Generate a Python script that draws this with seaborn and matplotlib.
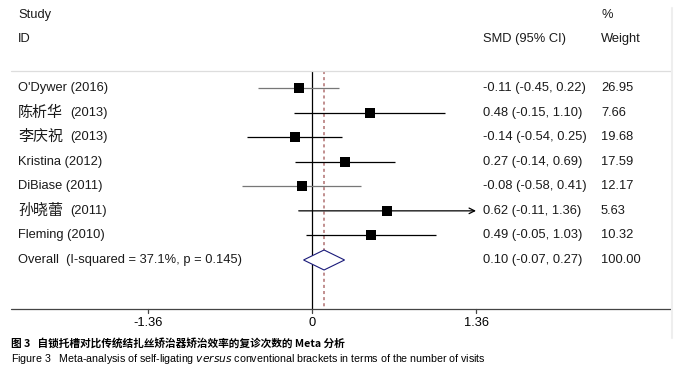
import matplotlib
matplotlib.use("Agg")
import matplotlib.pyplot as plt
import seaborn as sns
import pandas as pd
from matplotlib.patches import Polygon

sns.set_style("white")
FAM = ["Liberation Sans", "Noto Sans CJK SC", "DejaVu Sans"]
plt.rcParams["font.family"] = FAM

# ---- data ----
studies = ["O'Dywer (2016)", "陈析华 (2013)", "李庆祝 (2013)", "Kristina (2012)",
           "DiBiase (2011)", "孙晓蕾 (2011)", "Fleming (2010)"]
smd = [-0.11, 0.48, -0.14, 0.27, -0.08, 0.62, 0.49]
lower = [-0.45, -0.15, -0.54, -0.14, -0.58, -0.11, -0.05]
upper = [0.22, 1.10, 0.25, 0.69, 0.41, 1.36, 1.03]
weights = ["26.95", "7.66", "19.68", "17.59", "12.17", "5.63", "10.32"]
overall_label = "Overall  (I-squared = 37.1%, p = 0.145)"
overall = 0.10
overall_lo = -0.07
overall_hi = 0.27
overall_weight = "100.00"
ticks = [-1.36, 0, 1.36]
tick_labels = ["-1.36", "0", "1.36"]
axis_limit = 1.36

W, H = 687, 376
fig = plt.figure(figsize=(W / 100, H / 100), dpi=100)
ax = fig.add_axes([0, 0, 1, 1])

# pixel-based layout
px_per_unit = 120.6
x0_px = 312
row0_px = 88
row_step = 24.57

def xd(px):
    return (px - x0_px) / px_per_unit

def yd(py):
    return (py - row0_px) / row_step

ax.set_xlim(xd(0), xd(W))
ax.set_ylim(yd(H), yd(0))
ax.axis("off")

n = len(studies)
df = pd.DataFrame({"study": studies, "smd": smd, "lo": lower, "hi": upper,
                   "row": list(range(n))})

# CI lines
line_colors = ["#777777", "black", "black", "black", "#777777", "black", "black"]
for i, r in df.iterrows():
    hi = min(r.hi, axis_limit)
    if r.hi >= axis_limit:
        ax.annotate("", xy=(hi, r.row), xytext=(r.lo, r.row),
                    arrowprops=dict(arrowstyle="->", color=line_colors[i], lw=0.9,
                                    shrinkA=0, shrinkB=0, mutation_scale=10))
    else:
        ax.plot([r.lo, hi], [r.row, r.row], color=line_colors[i], lw=0.9,
                solid_capstyle="butt", zorder=2)

sns.scatterplot(data=df, x="smd", y="row", marker="s", s=55, color="black",
                edgecolor="black", linewidth=0, ax=ax, zorder=3, legend=False)

# overall diamond
orow = n
half_h = 10 / row_step
diamond = Polygon([[overall_lo, orow], [overall, orow - half_h],
                   [overall_hi, orow], [overall, orow + half_h]],
                  closed=True, facecolor="white", edgecolor="#1a1a7a", lw=0.8, zorder=4)
ax.add_patch(diamond)

# reference lines
sep_y = yd(71)
axis_y = yd(309)
ax.plot([0, 0], [sep_y, axis_y], color="black", lw=0.9, zorder=1)
ax.plot([overall, overall], [sep_y, axis_y], color="#b07070", lw=1.1,
        linestyle=(0, (2, 2)), zorder=1)
ax.plot([xd(11), xd(671)], [sep_y, sep_y], color="#dddddd", lw=0.9)
ax.plot([xd(11), xd(671)], [axis_y, axis_y], color="#444444", lw=0.9)
ax.plot([xd(672), xd(672)], [yd(8), yd(338)], color="#eeeeee", lw=1.5)

fs = 9.3
tc = "#1a1a1a"

# ticks
for t, lab in zip(ticks, tick_labels):
    ax.plot([t, t], [axis_y, axis_y + 4 / row_step], color="#444444", lw=0.9)
    ax.text(t, yd(323), lab, ha="center", va="center", fontsize=fs, color="black")

# headers
ax.text(xd(18), yd(15), "Study", ha="left", va="center", fontsize=fs, color=tc)
ax.text(xd(18), yd(39), "ID", ha="left", va="center", fontsize=fs, color=tc)
ax.text(xd(483), yd(39), "SMD (95% CI)", ha="left", va="center", fontsize=fs, color=tc)
ax.text(xd(601), yd(15), "%", ha="left", va="center", fontsize=fs, color=tc)
ax.text(xd(601), yd(39), "Weight", ha="left", va="center", fontsize=fs, color=tc)

for i in range(n):
    name = studies[i]
    is_cjk = any(ord(c) > 0x2e80 for c in name)
    if is_cjk:
        cn, yr = name.split(" (", 1)
        ax.text(xd(18), i, cn, ha="left", va="center", fontsize=10.8, color=tc,
                family=["Noto Sans CJK SC", "DejaVu Sans"])
        ax.text(xd(70), i, "(" + yr, ha="left", va="center", fontsize=fs, color=tc)
    else:
        ax.text(xd(18), i, name, ha="left", va="center", fontsize=fs, color=tc)
    ax.text(xd(483), i, f"{smd[i]:.2f} ({lower[i]:.2f}, {upper[i]:.2f})",
            ha="left", va="center", fontsize=fs, color=tc)
    ax.text(xd(601), i, weights[i], ha="left", va="center", fontsize=fs, color=tc)

ax.text(xd(18), orow, overall_label, ha="left", va="center", fontsize=fs, color=tc)
ax.text(xd(483), orow, f"{overall:.2f} ({overall_lo:.2f}, {overall_hi:.2f})",
        ha="left", va="center", fontsize=fs, color=tc)
ax.text(xd(601), orow, overall_weight, ha="left", va="center", fontsize=fs, color=tc)

# captions
fig.text(11 / W, 1 - 343 / H, "图 3   自锁托槽对比传统结扎丝矫治器矫治效率的复诊次数的 Meta 分析",
         ha="left", va="center", fontsize=7.7, color="black",
         family=["Noto Sans CJK SC", "DejaVu Sans"], fontweight="bold")
fig.text(11 / W, 1 - 359 / H, "Figure 3   Meta-analysis of self-ligating $\\it{versus}$ conventional brackets in terms of the number of visits",
         ha="left", va="center", fontsize=7.7, color="black")

fig.savefig("out.png", dpi=100)
